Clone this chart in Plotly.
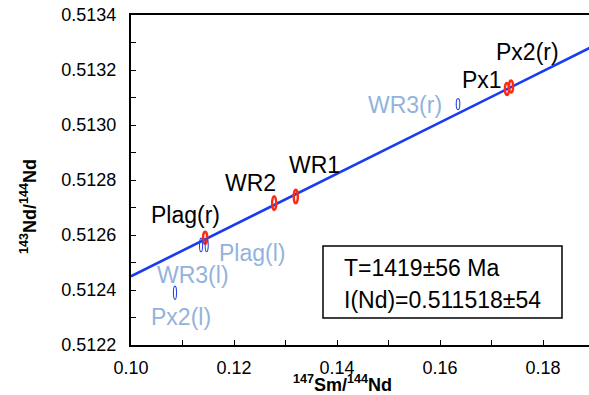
import plotly.graph_objects as go

# ---- data ----
red_names = ["Plag(r)", "WR2", "WR1", "Px1", "Px2(r)"]
red_x = [0.1144, 0.1278, 0.1320, 0.1730, 0.1738]
red_y = [0.51259, 0.512716, 0.512740, 0.513131, 0.513140]
red_ex = [0.0004, 0.0004, 0.0004, 0.0004, 0.0004]
red_ey = [0.000022, 0.000025, 0.000025, 0.000022, 0.000022]

blue_names = ["WR3(l)", "Plag(l)", "Px2(l)", "WR3(r)"]
blue_x = [0.1136, 0.1147, 0.10854, 0.1635]
blue_y = [0.512564, 0.512564, 0.51239, 0.513076]
blue_ex = [0.0003, 0.0003, 0.0003, 0.00035]
blue_ey = [0.000025, 0.000025, 0.000024, 0.00002]

line_x = [0.10, 0.19]
line_y = [0.51245, 0.513289]

x_ticks = [0.10, 0.12, 0.14, 0.16, 0.18]
y_ticks = [0.5122, 0.5124, 0.5126, 0.5128, 0.5130, 0.5132, 0.5134]
result_lines = ["T=1419±56 Ma", "I(Nd)=0.511518±54"]

# ---- figure ----
FONT = "Liberation Sans, Arial, sans-serif"
W, H = 589, 395
L, T, B = 131, 15, 50
XR = [0.10, 0.10 + (W - L) / 5150]
YR = [0.5122, 0.5134]

def px2x(px):
    return XR[0] + (px - L) / (W - L) * (XR[1] - XR[0])

def py2y(py):
    return YR[1] - (py - T) / (H - T - B) * (YR[1] - YR[0])

fig = go.Figure()
fig.add_trace(go.Scatter(x=line_x, y=line_y, mode="lines",
                         line=dict(color="#1a3cf0", width=2.6),
                         hoverinfo="skip", showlegend=False, cliponaxis=True))

shapes = []
for cx, cy, ex, ey in zip(red_x, red_y, red_ex, red_ey):
    shapes.append(dict(type="circle", xref="x", yref="y",
                       x0=cx - ex, x1=cx + ex, y0=cy - ey, y1=cy + ey,
                       line=dict(color="#ff2a10", width=2.4)))
for cx, cy, ex, ey in zip(blue_x, blue_y, blue_ex, blue_ey):
    shapes.append(dict(type="circle", xref="x", yref="y",
                       x0=cx - ex, x1=cx + ex, y0=cy - ey, y1=cy + ey,
                       line=dict(color="#2a48e0", width=1.1)))

# result box
shapes.append(dict(type="rect", xref="x", yref="y",
                   x0=px2x(323), x1=px2x(562), y0=py2y(318), y1=py2y(246),
                   line=dict(color="black", width=1.5), fillcolor="white"))

label_pos = {
    "Px2(r)": (527, 52), "Px1": (481.5, 80), "WR1": (314, 165), "WR2": (250, 183),
    "Plag(r)": (185, 215),
    "WR3(r)": (404.5, 105), "Plag(l)": (252, 253), "WR3(l)": (192.5, 275), "Px2(l)": (181, 317),
}
annotations = []
for name in red_names:
    px, py = label_pos[name]
    annotations.append(dict(x=px2x(px), y=py2y(py), xref="x", yref="y", text=name,
                            showarrow=False, font=dict(family=FONT, size=23, color="black")))
for name in blue_names:
    px, py = label_pos[name]
    annotations.append(dict(x=px2x(px), y=py2y(py), xref="x", yref="y", text=name,
                            showarrow=False, font=dict(family=FONT, size=23, color="#93b3dc")))
for i, txt in enumerate(result_lines):
    annotations.append(dict(x=px2x(342), y=py2y(268 + 32 * i), xref="x", yref="y",
                            xanchor="left", text=txt, showarrow=False,
                            font=dict(family=FONT, size=23, color="black")))
# axis titles
annotations.append(dict(x=(342 - L) / (W - L), y=-(383.5 - (H - B)) / (H - T - B),
                        xref="paper", yref="paper", showarrow=False,
                        xanchor="center", yanchor="middle",
                        text="<b><sup>147</sup>Sm/<sup>144</sup>Nd</b>",
                        font=dict(family=FONT, size=18, color="black")))
annotations.append(dict(x=-(L - 28) / (W - L), y=((H - B) - 207) / (H - T - B),
                        xref="paper", yref="paper", showarrow=False, textangle=-90,
                        xanchor="center", yanchor="middle",
                        text="<b><sup>143</sup>Nd/<sup>144</sup>Nd</b>",
                        font=dict(family=FONT, size=18, color="black")))

fig.update_layout(
    width=W, height=H,
    margin=dict(l=L, r=0, t=T, b=B, autoexpand=False),
    paper_bgcolor="white", plot_bgcolor="white",
    showlegend=False, shapes=shapes, annotations=annotations,
    font=dict(family=FONT, size=18, color="black"),
)
fig.update_xaxes(range=XR, tickvals=x_ticks, ticktext=[f"{v:.2f}" for v in x_ticks],
                 ticks="inside", ticklen=5, tickwidth=1, tickcolor="black",
                 showline=True, linecolor="black", linewidth=2, mirror=True,
                 showgrid=False, zeroline=False, automargin=False,
                 minor=dict(dtick=0.01, tick0=0.10, ticks="inside", ticklen=5, tickcolor="black"),
                 tickfont=dict(family=FONT, size=18, color="black"), ticklabelstandoff=5)
fig.update_yaxes(range=YR, tickvals=y_ticks, ticktext=[f"{v:.4f}" for v in y_ticks],
                 ticks="inside", ticklen=5, tickwidth=1, tickcolor="black",
                 showline=True, linecolor="black", linewidth=2, mirror=False,
                 showgrid=False, zeroline=False, automargin=False,
                 minor=dict(dtick=0.0001, tick0=0.5122, ticks="inside", ticklen=5, tickcolor="black"),
                 tickfont=dict(family=FONT, size=18, color="black"), ticklabelstandoff=9)

fig.write_html("out.html", config={"responsive": False, "displayModeBar": False},
               post_script="document.body.style.margin='0';document.body.style.overflow='hidden';")
